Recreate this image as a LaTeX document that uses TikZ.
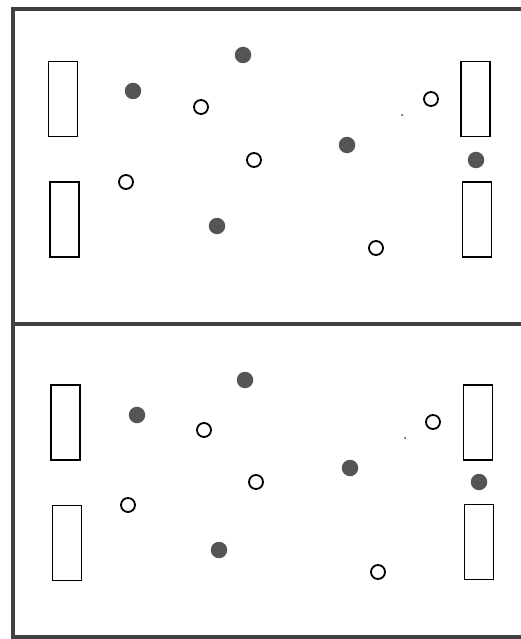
\documentclass[tikz,border=0pt]{standalone}
\begin{document}
\begin{tikzpicture}[x=1pt,y=-1pt,
  frame/.style={line width=3.4pt,draw={rgb,255:red,65;green,65;blue,65}},
  goal/.style={draw=black,line width=1.8pt,fill=white,inner sep=0pt,minimum width=29pt,minimum height=75pt,rectangle},
  full/.style={circle,fill={rgb,255:red,85;green,85;blue,85},inner sep=0pt,minimum size=16.5pt},
  empty/.style={circle,draw=black,line width=1.8pt,fill=white,inner sep=0pt,minimum size=14pt},
  speck/.style={circle,fill=black!80,inner sep=0pt,minimum size=2pt}]
\useasboundingbox (0,0) rectangle (520,639);
% frame
\draw[frame] (522,9) -- (13,9) -- (13,637) -- (522,637);
\draw[frame] (13,324) -- (522,324);
% panel 1
\node[goal] (g1a) at (63,99) {};
\node[goal] (g1b) at (64.5,219.5) {};
\node[goal] (g1c) at (475.5,99) {};
\node[goal] (g1d) at (477,219.5) {};
\node[full] (f1a) at (133,91) {};
\node[full] (f1b) at (243,55) {};
\node[full] (f1c) at (217,226) {};
\node[full] (f1d) at (347,145) {};
\node[full] (f1e) at (476,160) {};
\node[empty] (e1a) at (201,107) {};
\node[empty] (e1b) at (254,160) {};
\node[empty] (e1c) at (126,182) {};
\node[empty] (e1d) at (431,99) {};
\node[empty] (e1e) at (376,248) {};
\node[speck] (s1) at (402,115) {};
% panel 2
\node[goal] (g2a) at (65.5,422.5) {};
\node[goal] (g2b) at (67,543) {};
\node[goal] (g2c) at (478,422.5) {};
\node[goal] (g2d) at (479,542) {};
\node[full] (f2a) at (137,415) {};
\node[full] (f2b) at (245,380) {};
\node[full] (f2c) at (219,550) {};
\node[full] (f2d) at (350,468) {};
\node[full] (f2e) at (479,482) {};
\node[empty] (e2a) at (204,430) {};
\node[empty] (e2b) at (256,482) {};
\node[empty] (e2c) at (128,505) {};
\node[empty] (e2d) at (433,422) {};
\node[empty] (e2e) at (378,572) {};
\node[speck] (s2) at (405,438) {};
\end{tikzpicture}
\end{document}
